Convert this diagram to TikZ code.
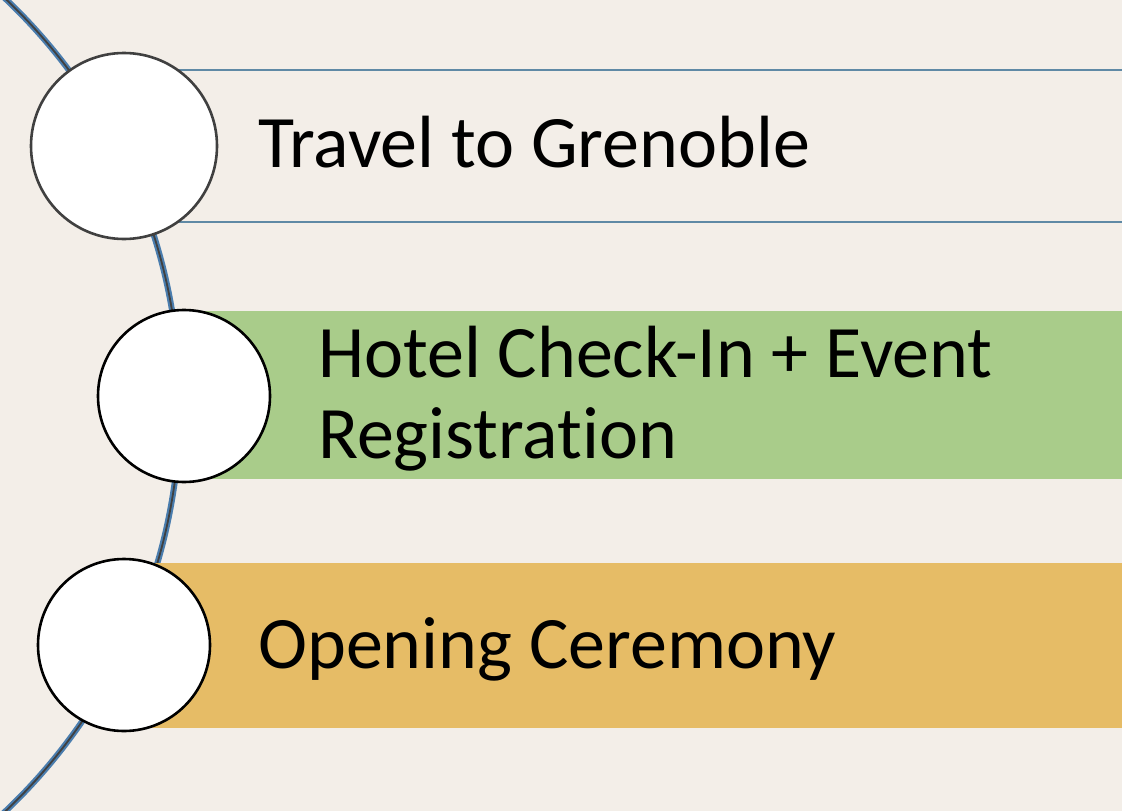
\documentclass[tikz,border=0pt]{standalone}
\usepackage{fontspec}
\setmainfont{Carlito}[Ligatures=NoCommon]
\definecolor{bgc}{HTML}{F3EEE8}
\definecolor{greenbar}{HTML}{A9CC8A}
\definecolor{orangebar}{HTML}{E6BC66}
\definecolor{barline}{HTML}{5F89A5}
\definecolor{arcblue}{HTML}{4A7DAE}
\definecolor{arcdark}{HTML}{404040}
\begin{document}
\begin{tikzpicture}[x=1pt,y=-1pt,
  dot/.style={circle,fill=white,inner sep=0pt,line width=2.6pt},
  label/.style={anchor=base west,inner sep=0pt,font=\fontsize{74}{82}\selectfont},
  rule/.style={draw=barline,line width=2pt}]
\useasboundingbox (0,0) rectangle (1122,811);
\fill[bgc] (0,0) rectangle (1122,811);
\begin{scope}
\clip (0,0) rectangle (1122,811);
% timeline arc
\draw[arcblue,line width=6pt] (-380,405) circle (560);
\draw[arcdark,line width=1.8pt] (-380,405) circle (560);
% bars
\draw[rule] (124,70) -- (1122,70);
\draw[rule] (124,222) -- (1122,222);
\fill[greenbar] (184,311) rectangle (1122,479);
\fill[orangebar] (124,563) rectangle (1122,728);
\end{scope}
% circles
\node[dot,draw=arcdark,minimum size=186pt] (c1) at (124,146) {};
\node[dot,draw=black,minimum size=172pt] (c2) at (184,396) {};
\node[dot,draw=black,minimum size=172pt] (c3) at (124,645) {};
% labels
\node[label] (t1) at (258,167) {Travel to Grenoble};
\node[label] (t2a) at (318,377) {Hotel Check-In + Event};
\node[label] (t2b) at (318,458) {Registration};
\node[label] (t3) at (258,668) {Opening Ceremony};
\end{tikzpicture}
\end{document}
